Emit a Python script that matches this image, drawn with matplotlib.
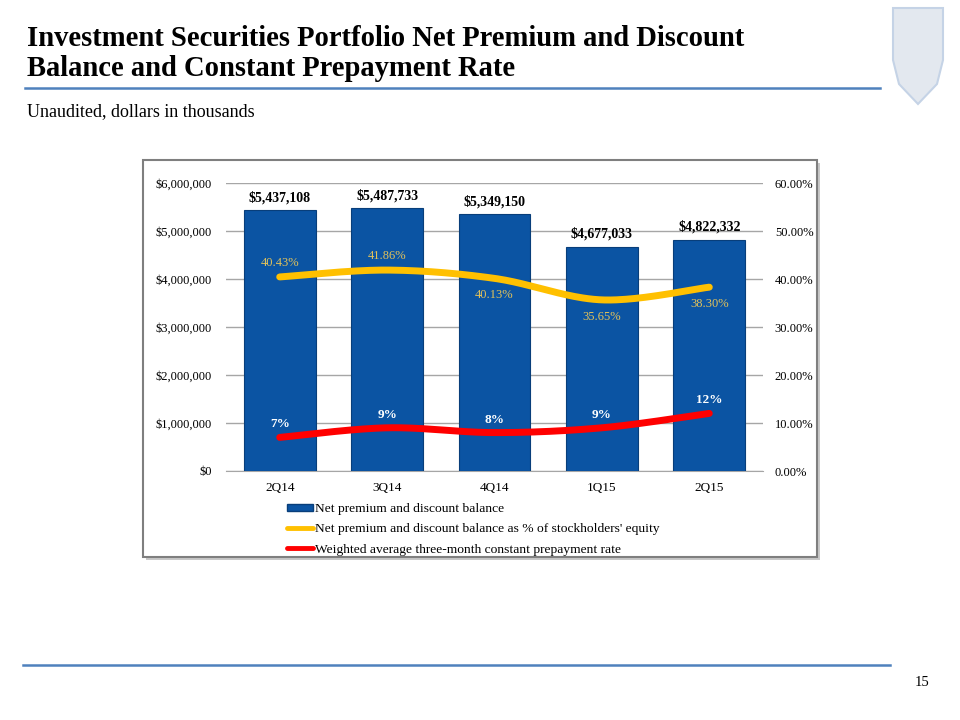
import numpy as np
import matplotlib
matplotlib.use('Agg')
import matplotlib.pyplot as plt
from matplotlib.patches import Rectangle, Polygon
from matplotlib.lines import Line2D
from matplotlib.ticker import FuncFormatter

plt.rcParams['font.family'] = ['Liberation Serif', 'DejaVu Serif']

quarters = ['2Q14', '3Q14', '4Q14', '1Q15', '2Q15']
balance = [5437108, 5487733, 5349150, 4677033, 4822332]
pct_equity = [40.43, 41.86, 40.13, 35.65, 38.30]
cpr = [7, 9, 8, 9, 12]
cpr_labels = ['7%', '9%', '8%', '9%', '12%']
# label side for the equity-% line: +1 above, -1 below
eq_side = [1, 1, -1, -1, -1]

BLUE = '#0B54A3'
GOLD = '#FFC000'
GOLD_TXT = '#E2C25A'
RED = '#FF0000'
GRID = '#A6A6A6'
RULE = '#4F81BD'


def smooth(x, y, n=40):
    # Catmull-Rom curve through the points (like Excel's smoothed line)
    x = np.asarray(x, float); y = np.asarray(y, float)
    px = np.r_[x[0], x, x[-1]]; py = np.r_[y[0], y, y[-1]]
    xs, ys = [], []
    t = np.linspace(0, 1, n)
    for i in range(1, len(px) - 2):
        for p, out in ((px, xs), (py, ys)):
            p0, p1, p2, p3 = p[i - 1], p[i], p[i + 1], p[i + 2]
            out.extend(0.5 * ((2 * p1) + (-p0 + p2) * t + (2 * p0 - 5 * p1 + 4 * p2 - p3) * t ** 2
                              + (-p0 + 3 * p1 - 3 * p2 + p3) * t ** 3))
    return np.array(xs), np.array(ys)


fig = plt.figure(figsize=(9.6, 7.2), dpi=100)

# title block
fig.text(27 / 960, 1 - 39 / 720, 'Investment Securities Portfolio Net Premium and Discount',
         fontsize=20.6, fontweight='bold', va='center', ha='left')
fig.text(27 / 960, 1 - 69 / 720, 'Balance and Constant Prepayment Rate',
         fontsize=20.6, fontweight='bold', va='center', ha='left')
fig.add_artist(Line2D([25 / 960, 880 / 960], [1 - 88 / 720] * 2, color=RULE, lw=1.8))
fig.text(27 / 960, 1 - 112 / 720, 'Unaudited, dollars in thousands', fontsize=13, va='center')
fig.add_artist(Line2D([23 / 960, 890 / 960], [1 - 665 / 720] * 2, color=RULE, lw=1.8))
fig.text(922 / 960, 1 - 683 / 720, '15', fontsize=10.5, va='center', ha='center')

# shield logo (simple)
sx = np.array([893, 943, 943, 937, 918, 899, 893])
sy = np.array([8, 8, 60, 84, 104, 84, 60])
fig.add_artist(Polygon(np.c_[sx / 960, 1 - sy / 720], closed=True, transform=fig.transFigure,
                       facecolor='#E3E8EF', edgecolor='#C5D3E6', lw=1.5))

# chart frame with shadow
fig.add_artist(Rectangle((146 / 960, 1 - 560 / 720), 674 / 960, 397 / 720, transform=fig.transFigure,
                         facecolor='#C8C8C8', edgecolor='none', zorder=0))
fig.add_artist(Rectangle((143 / 960, 1 - 557 / 720), 674 / 960, 397 / 720, transform=fig.transFigure,
                         facecolor='white', edgecolor='#7F7F7F', lw=1.5, zorder=0.5))

ax = fig.add_axes([226 / 960, 1 - 471 / 720, 537 / 960, 288 / 720])
ax.set_zorder(2); ax.patch.set_visible(False)
x = np.arange(len(quarters))
bars = ax.bar(x, balance, width=0.67, color=BLUE, edgecolor='#083E7A', lw=0.8, zorder=3)
for b, v in zip(bars, balance):
    ax.annotate(f'${v:,.0f}', (b.get_x() + b.get_width() / 2, v), xytext=(0, 4),
                textcoords='offset points', ha='center', va='bottom', fontsize=10, fontweight='bold')
ax.set_ylim(0, 6000000)
ax.set_xlim(-0.5, len(quarters) - 0.5)
ax.set_yticks(np.arange(0, 6000001, 1000000))
ax.yaxis.set_major_formatter(FuncFormatter(lambda v, p: f'${v:,.0f}'))
ax.grid(axis='y', color=GRID, lw=1.0, zorder=0)
ax.set_xticks(x); ax.set_xticklabels(quarters)
ax.tick_params(length=0, labelsize=9.5, pad=8)
ax.tick_params(axis='y', labelsize=9, pad=10)
for s in ('top', 'right', 'left'):
    ax.spines[s].set_visible(False)
ax.spines['bottom'].set_color(GRID)

ax2 = ax.twinx()
ax2.set_zorder(3)
ax2.set_ylim(0, 60)
ax2.set_yticks(np.arange(0, 61, 10))
ax2.yaxis.set_major_formatter(FuncFormatter(lambda v, p: f'{v:.2f}%'))
ax2.tick_params(length=0, labelsize=9, pad=8.5)
for s in ax2.spines.values():
    s.set_visible(False)

gx, gy = smooth(x, pct_equity)
ax2.plot(gx, gy, color=GOLD, lw=5, solid_capstyle='round', zorder=4)
rx, ry = smooth(x, cpr)
ax2.plot(rx, ry, color=RED, lw=5, solid_capstyle='round', zorder=4)

for xi, v, side in zip(x, pct_equity, eq_side):
    ax2.annotate(f'{v:.2f}%', (xi, v), xytext=(0, 6 if side > 0 else -8), textcoords='offset points',
                 ha='center', va='bottom' if side > 0 else 'top', fontsize=9, color=GOLD_TXT)
for xi, v, lab in zip(x, cpr, cpr_labels):
    ax2.annotate(lab, (xi, v), xytext=(0, 5), textcoords='offset points',
                 ha='center', va='bottom', fontsize=9.5, color='white', fontweight='bold')

handles = [Rectangle((0, 0), 1, 1, facecolor=BLUE, edgecolor='#083E7A'),
           Line2D([], [], color=GOLD, lw=3.5, solid_capstyle='round'),
           Line2D([], [], color=RED, lw=3.5, solid_capstyle='round')]
names = ['Net premium and discount balance',
         "Net premium and discount balance as % of stockholders' equity",
         'Weighted average three-month constant prepayment rate']
fig.legend(handles, names, loc='upper left', bbox_to_anchor=(287 / 960, 1 - 503 / 720),
           frameon=False, fontsize=9.7, handlelength=1.9, handleheight=0.45, handletextpad=0.15,
           labelspacing=0.62, borderaxespad=0, borderpad=0)

fig.savefig('out.png', dpi=100)
